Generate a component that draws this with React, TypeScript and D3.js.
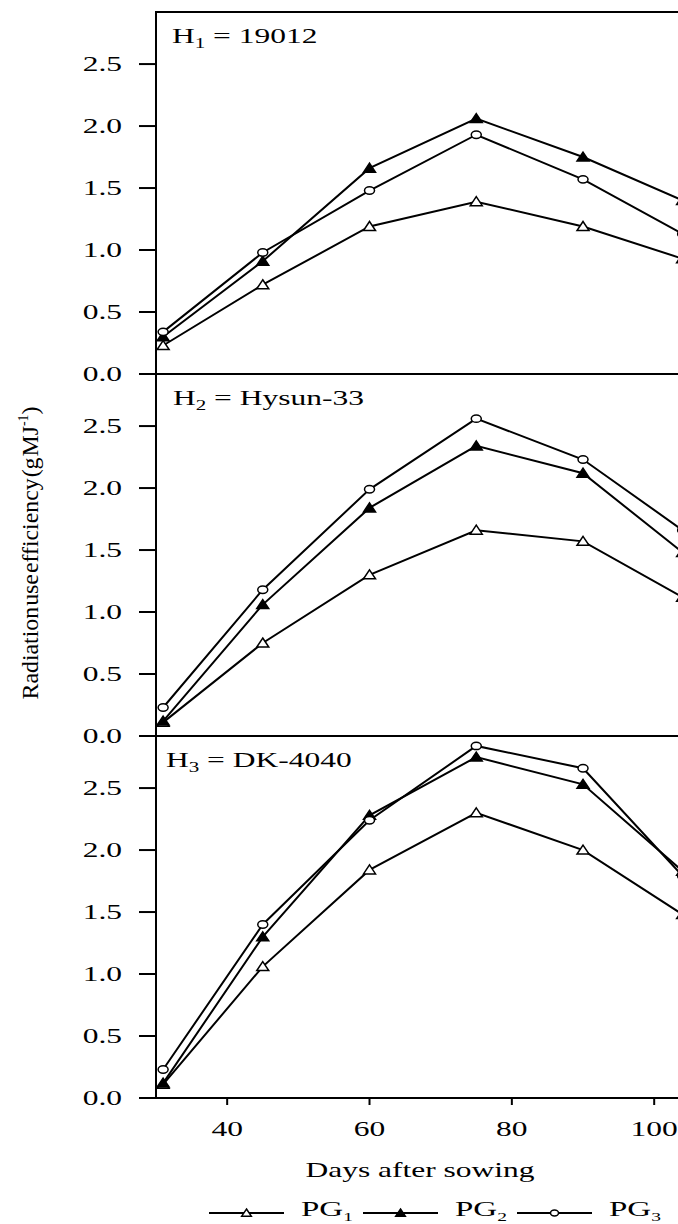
import React from "react"
import * as d3 from "d3"

// days after sowing at which RUE was measured
const DAYS = [31, 45, 60, 75, 90, 104]
const X_TICKS = [40, 60, 80, 100]
const Y_TICKS = [0, 0.5, 1.0, 1.5, 2.0, 2.5]
const HYBRIDS = ["19012", "Hysun-33", "DK-4040"]
const GROUPS = ["PG1", "PG2", "PG3"]

const H1_PG1 = [0.23, 0.72, 1.19, 1.39, 1.19, 0.93]
const H1_PG2 = [0.3, 0.91, 1.66, 2.06, 1.75, 1.4]
const H1_PG3 = [0.34, 0.98, 1.48, 1.93, 1.57, 1.13]

const H2_PG1 = [0.11, 0.75, 1.3, 1.66, 1.57, 1.12]
const H2_PG2 = [0.12, 1.06, 1.84, 2.34, 2.12, 1.48]
const H2_PG3 = [0.23, 1.18, 1.99, 2.56, 2.23, 1.66]

const H3_PG1 = [0.11, 1.06, 1.84, 2.3, 2.0, 1.48]
const H3_PG2 = [0.12, 1.3, 2.28, 2.75, 2.53, 1.83]
const H3_PG3 = [0.23, 1.4, 2.24, 2.84, 2.66, 1.79]

const PANELS = [
  [H1_PG1, H1_PG2, H1_PG3],
  [H2_PG1, H2_PG2, H2_PG3],
  [H3_PG1, H3_PG2, H3_PG3],
]

const W = 678
const H = 1224
const LEFT = 156
const TOP = 12
const PANEL_H = 362
const SX = 1.5 // the original lettering is stretched sideways
const FONT = "'Liberation Serif', 'Times New Roman', serif"
const LABEL_X = [172, 173, 166]

const x = d3.scaleLinear().domain([30, 106]).range([LEFT, LEFT + 76 * 7.117])
const yFmt = d3.format(".1f")

type Kind = "open" | "filled" | "circle"
const KINDS: Kind[] = ["open", "filled", "circle"]

function Marker({ kind, cx, cy, s = 1 }: { kind: Kind; cx: number; cy: number; s?: number }) {
  if (kind === "circle") {
    return <ellipse cx={cx} cy={cy} rx={5 * s} ry={3.7 * s} fill="#fff" stroke="#000" strokeWidth={1.5} />
  }
  const hw = 6 * s
  const d = `M${cx},${cy - 5 * s}L${cx + hw},${cy + 4 * s}L${cx - hw},${cy + 4 * s}Z`
  return <path d={d} fill={kind === "filled" ? "#000" : "#fff"} stroke="#000" strokeWidth={1.5} />
}

function Stretched({ tx, ty, anchor = "start", size = 21, children }: any) {
  return (
    <text
      transform={`translate(${tx},${ty}) scale(${SX},1)`}
      textAnchor={anchor}
      fontSize={size}
      fontFamily={FONT}
      fill="#000"
    >
      {children}
    </text>
  )
}

function Panel({ idx }: { idx: number }) {
  const top = TOP + idx * PANEL_H
  const y = d3.scaleLinear().domain([0, 2.92]).range([top + PANEL_H, top])
  const line = d3
    .line<number>()
    .x((_, i) => x(DAYS[i]))
    .y((v) => y(v))
  const series = PANELS[idx]

  return (
    <g>
      {/* bottom axis line of panel */}
      <line x1={LEFT} x2={W + 20} y1={y(0)} y2={y(0)} stroke="#000" strokeWidth={2} />
      {idx === 0 && <line x1={LEFT} x2={W + 20} y1={top} y2={top} stroke="#000" strokeWidth={2} />}

      {Y_TICKS.map((t) => (
        <g key={t}>
          <line x1={LEFT - 17} x2={LEFT} y1={y(t)} y2={y(t)} stroke="#000" strokeWidth={2} />
          <Stretched tx={122} ty={y(t) + 7} anchor="end">
            {yFmt(t)}
          </Stretched>
        </g>
      ))}

      <Stretched tx={LABEL_X[idx]} ty={top + 30.5}>
        H
        <tspan fontSize={14} dy={5}>
          {idx + 1}
        </tspan>
        <tspan dy={-5}>{" = " + HYBRIDS[idx]}</tspan>
      </Stretched>

      {series.map((vals, si) => (
        <path key={si} d={line(vals) ?? ""} fill="none" stroke="#000" strokeWidth={2} />
      ))}
      {series.map((vals, si) =>
        vals.map((v, i) => <Marker key={`${si}-${i}`} kind={KINDS[si]} cx={x(DAYS[i])} cy={y(v)} />)
      )}
    </g>
  )
}

export default function App() {
  const bottom = TOP + 3 * PANEL_H
  const legendY = 1213
  return (
    <svg
      width={W}
      height={H}
      style={{ position: "absolute", left: 0, top: 0, background: "#fff", display: "block" }}
    >
      <rect width={W} height={H} fill="#fff" />
      {[0, 1, 2].map((i) => (
        <Panel key={i} idx={i} />
      ))}

      {/* y axis */}
      <line x1={LEFT} x2={LEFT} y1={TOP - 1} y2={bottom + 1} stroke="#000" strokeWidth={2} />

      {/* x ticks */}
      {X_TICKS.map((t) => (
        <g key={t}>
          <line x1={x(t)} x2={x(t)} y1={bottom} y2={bottom + 7} stroke="#000" strokeWidth={2} />
          <Stretched tx={x(t)} ty={bottom + 38} anchor="middle">
            {t}
          </Stretched>
        </g>
      ))}

      <Stretched tx={420} ty={1177} anchor="middle">
        Days after sowing
      </Stretched>

      {/* y title, squeezed like the original */}
      <text
        transform={`translate(38,553) rotate(-90)`}
        textAnchor="middle"
        fontSize={24}
        fontFamily={FONT}
        wordSpacing={-5}
        textLength={293}
        lengthAdjust="spacingAndGlyphs"
      >
        Radiation use efficiency (g MJ
        <tspan fontSize={14} dy={-10}>
          -1
        </tspan>
        <tspan dy={10}>)</tspan>
      </text>

      {/* legend */}
      {GROUPS.map((g, i) => {
        const x0 = 209 + i * 154
        return (
          <g key={g}>
            <line x1={x0} x2={x0 + 75} y1={legendY} y2={legendY} stroke="#000" strokeWidth={1.8} />
            <Marker kind={KINDS[i]} cx={x0 + 37.5} cy={legendY} s={0.8} />
            <Stretched tx={x0 + 92} ty={1216} size={22}>
              PG
              <tspan fontSize={13} dy={4.5}>
                {i + 1}
              </tspan>
            </Stretched>
          </g>
        )
      })}
    </svg>
  )
}
